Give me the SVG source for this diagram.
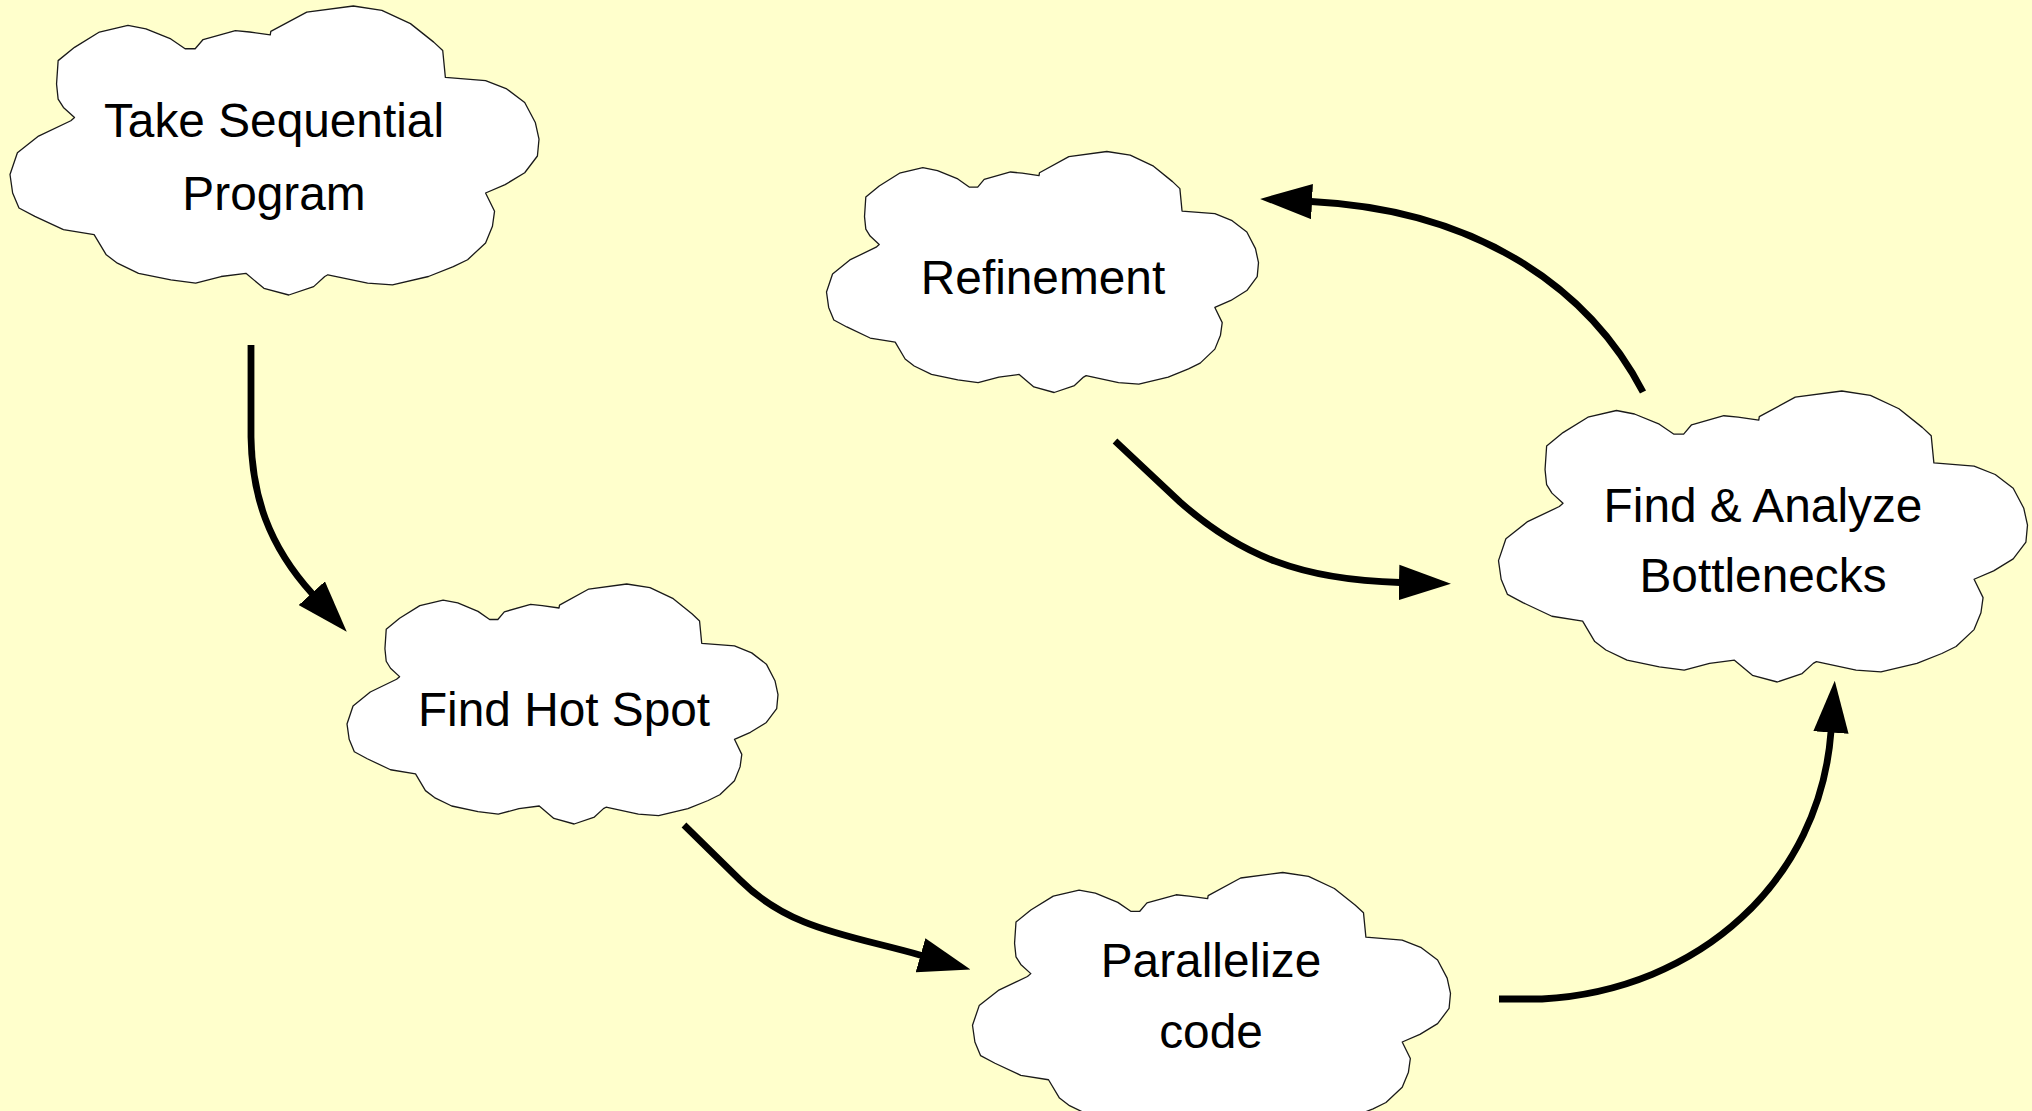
<svg xmlns="http://www.w3.org/2000/svg" xmlns:xlink="http://www.w3.org/1999/xlink" width="2032" height="1111" viewBox="0 0 2032 1111">
  <style>
    .cloud { fill: #ffffff; stroke: #1a1a1a; stroke-width: 1.3; stroke-linejoin: round; vector-effect: non-scaling-stroke; }
    .label { font-family: "Liberation Sans", Arial, Helvetica, sans-serif; font-size: 47.8px; fill: #000000; text-anchor: middle; }
    .flow { fill: none; stroke: #000000; stroke-width: 6.8; stroke-linecap: butt; stroke-linejoin: round; marker-end: url(#head); }
  </style>
  <defs>
    <!-- cloud outline in a 1000 x 1000 unit box -->
    <path id="cloud" class="cloud" d="M331,148 L350,148 365,116 426,85 453,90 492,100 493,88 561,21 649,0 703,15 757,61 801,125 818,154 823,247 899,258 939,287 973,334 993,403 1000,461 997,519 973,577 936,618 899,647 916,710 912,762 899,820 865,878 838,902 791,936 723,965 676,959 601,930 595,936 574,971 527,1000 480,977 446,925 399,936 351,959 304,948 243,925 203,890 182,861 159,791 101,774 47,728 17,699 5,647 0,583 14,508 54,450 115,397 122,386 101,351 91,322 88,270 91,189 122,143 169,90 223,67 257,79 304,114 Z"/>
    <marker id="head" markerUnits="userSpaceOnUse" markerWidth="52" markerHeight="36" viewBox="0 0 50 34" refX="1" refY="17" orient="auto">
      <path d="M0,0 L50,17 L0,34 Z" fill="#000000"/>
    </marker>
  </defs>

  <rect x="0" y="0" width="2032" height="1111" fill="#ffffcc"/>

  <g id="connectors">
    <path id="seq-to-hotspot" class="flow" d="M251,345 L251,437 C252,495 268,545 312.5,594"/>
    <path id="hotspot-to-parallelize" class="flow" d="M684,825 L740,880 C790,930 850,935 921.5,955.5"/>
    <path id="parallelize-to-bottlenecks" class="flow" d="M1499,999 L1542,999 C1700,990 1820,880 1831,731.5"/>
    <path id="bottlenecks-to-refinement" class="flow" d="M1643,392 C1590,290 1480,210 1311,201.5"/>
    <path id="refinement-to-bottlenecks" class="flow" d="M1115,441 L1180,502 C1240,555 1300,580 1400,582.5"/>
  </g>

  <g id="take-sequential-program">
    <use xlink:href="#cloud" href="#cloud" transform="translate(10,6) scale(0.529,0.289)"/>
    <text class="label" x="274" y="137">Take Sequential</text>
    <text class="label" x="274" y="210">Program</text>
  </g>

  <g id="refinement">
    <use xlink:href="#cloud" href="#cloud" transform="translate(826.5,151.5) scale(0.432,0.241)"/>
    <text class="label" x="1043" y="294">Refinement</text>
  </g>

  <g id="find-analyze-bottlenecks">
    <use xlink:href="#cloud" href="#cloud" transform="translate(1498.5,391) scale(0.529,0.291)"/>
    <text class="label" x="1763" y="522">Find &amp; Analyze</text>
    <text class="label" x="1763" y="592">Bottlenecks</text>
  </g>

  <g id="find-hot-spot">
    <use xlink:href="#cloud" href="#cloud" transform="translate(347,584) scale(0.431,0.240)"/>
    <text class="label" x="564" y="726">Find Hot Spot</text>
  </g>

  <g id="parallelize-code">
    <use xlink:href="#cloud" href="#cloud" transform="translate(972.5,872.5) scale(0.478,0.262)"/>
    <text class="label" x="1211" y="977">Parallelize</text>
    <text class="label" x="1211" y="1048">code</text>
  </g>
</svg>
